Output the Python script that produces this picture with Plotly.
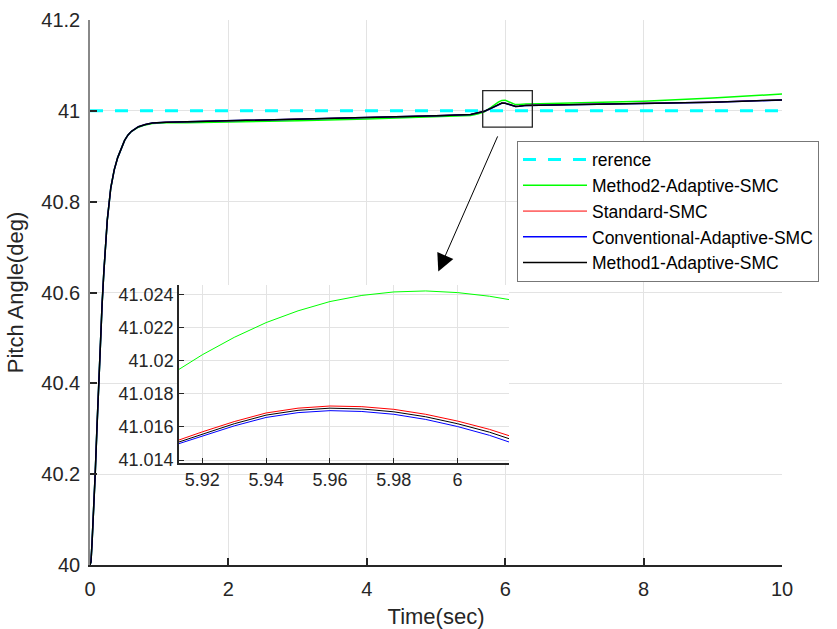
import plotly.graph_objects as go

# ---------------- data ----------------
time = [0, 0.014, 0.03, 0.05, 0.075, 0.1, 0.125, 0.15, 0.175, 0.2, 0.25, 0.3, 0.35, 0.4, 0.45,
        0.5, 0.55, 0.6, 0.7, 0.8, 0.9, 1.1, 1.4,
        2, 3, 4, 5, 5.5, 5.6, 5.7, 5.8, 5.85, 5.9, 5.95, 6.0, 6.05, 6.1, 6.15, 6.2, 6.3, 6.5,
        7, 8, 9, 10]
reference = [41.0] * len(time)
method2 = [40.0, 40.007, 40.05, 40.11, 40.20, 40.30, 40.40, 40.49, 40.575, 40.645, 40.76, 40.83,
           40.87, 40.897, 40.918, 40.935, 40.947, 40.955, 40.964, 40.969, 40.972, 40.974, 40.974,
           40.975, 40.978, 40.982, 40.987, 40.990, 40.993, 40.998, 41.008, 41.014, 41.019, 41.023,
           41.0235, 41.020, 41.016, 41.0138, 41.0138, 41.015, 41.0155, 41.017, 41.021, 41.028, 41.037]
standard = [40.0, 40.007, 40.05, 40.11, 40.20, 40.30, 40.40, 40.49, 40.575, 40.645, 40.76, 40.83,
            40.87, 40.897, 40.918, 40.935, 40.947, 40.955, 40.965, 40.970, 40.973, 40.975, 40.976,
            40.978, 40.981, 40.985, 40.989, 40.992, 40.995, 40.999, 41.0062, 41.0102, 41.0137,
            41.0172, 41.0170, 41.0147, 41.0112, 41.0100, 41.0104, 41.0122, 41.0127, 41.0137,
            41.0162, 41.0192, 41.0242]
conventional = [40.0, 40.007, 40.05, 40.11, 40.20, 40.30, 40.40, 40.49, 40.575, 40.645, 40.76,
                40.83, 40.87, 40.897, 40.918, 40.935, 40.947, 40.955, 40.965, 40.970, 40.973,
                40.975, 40.976, 40.978, 40.981, 40.985, 40.989, 40.992, 40.995, 40.999, 41.0058,
                41.0098, 41.0133, 41.0168, 41.0166, 41.0143, 41.0108, 41.0096, 41.0100, 41.0118,
                41.0123, 41.0133, 41.0158, 41.0188, 41.0238]
method1 = [40.0, 40.007, 40.05, 40.11, 40.20, 40.30, 40.40, 40.49, 40.575, 40.645, 40.76, 40.83,
           40.87, 40.897, 40.918, 40.935, 40.947, 40.955, 40.965, 40.970, 40.973, 40.975, 40.976,
           40.978, 40.981, 40.985, 40.989, 40.992, 40.995, 40.999, 41.006, 41.010, 41.0135,
           41.017, 41.0168, 41.0145, 41.011, 41.0098, 41.0102, 41.012, 41.0125, 41.0135, 41.016,
           41.019, 41.024]

# zoomed-in window
time_zoom = [5.9127, 5.92, 5.93, 5.94, 5.95, 5.96, 5.97, 5.98, 5.99, 6.0, 6.01, 6.0161]
method2_zoom = [41.01947, 41.02035, 41.0214, 41.02229, 41.02300, 41.02356, 41.02393, 41.02414,
                41.02420, 41.02410, 41.02388, 41.02368]
standard_zoom = [41.01521, 41.01570, 41.01632, 41.01684, 41.01713, 41.01726, 41.01722, 41.01706,
                 41.01676, 41.01635, 41.01585, 41.01547]
method1_zoom = [41.01509, 41.01557, 41.01619, 41.01671, 41.01700, 41.01713, 41.01708, 41.01691,
                41.01661, 41.01619, 41.01568, 41.01529]
conventional_zoom = [41.01499, 41.01546, 41.01606, 41.01657, 41.01686, 41.01698, 41.01693,
                     41.01676, 41.01645, 41.01602, 41.01549, 41.01509]

x_ticks = [0, 2, 4, 6, 8, 10]
y_ticks = [40, 40.2, 40.4, 40.6, 40.8, 41, 41.2]
y_tick_text = ["40", "40.2", "40.4", "40.6", "40.8", "41", "41.2"]
xz_ticks = [5.92, 5.94, 5.96, 5.98, 6.0]
xz_tick_text = ["5.92", "5.94", "5.96", "5.98", "6"]
yz_ticks = [41.014, 41.016, 41.018, 41.02, 41.022, 41.024]
yz_tick_text = ["41.014", "41.016", "41.018", "41.02", "41.022", "41.024"]

names = ["rerence", "Method2-Adaptive-SMC", "Standard-SMC", "Conventional-Adaptive-SMC",
         "Method1-Adaptive-SMC"]

FONT = "Liberation Sans, Arial, sans-serif"
TXT = "#262626"
GRID = "#e3e3e3"

fig = go.Figure()

fig.add_trace(go.Scatter(x=time, y=reference, name=names[0], mode="lines",
                         line=dict(color="#00ffff", width=3, dash="13px,12px")))
fig.add_trace(go.Scatter(x=time, y=method2, name=names[1], mode="lines",
                         line=dict(color="#00ff00", width=1.5)))
fig.add_trace(go.Scatter(x=time, y=standard, name=names[2], mode="lines",
                         line=dict(color="#ff0000", width=1)))
fig.add_trace(go.Scatter(x=time, y=conventional, name=names[3], mode="lines",
                         line=dict(color="#0000ff", width=1.5)))
fig.add_trace(go.Scatter(x=time, y=method1, name=names[4], mode="lines",
                         line=dict(color="#000000", width=1.5)))

# inset traces
for ys, col in [(method2_zoom, "#00ff00"), (standard_zoom, "#ff0000"),
                (method1_zoom, "#000000"), (conventional_zoom, "#0000ff")]:
    fig.add_trace(go.Scatter(x=time_zoom, y=ys, mode="lines", showlegend=False,
                             line=dict(color=col, width=1), xaxis="x2", yaxis="y2"))

fig.update_layout(
    width=837, height=629,
    margin=dict(l=90, r=55, t=20, b=64, autoexpand=False),
    paper_bgcolor="white", plot_bgcolor="white",
    font=dict(family=FONT, color=TXT),
    xaxis=dict(domain=[0, 1], range=[0, 10], tickvals=x_ticks, showgrid=True, gridcolor=GRID,
               gridwidth=1, zeroline=False, showline=True, linecolor="#262626", linewidth=1.5,
               ticks="inside", ticklen=7, tickcolor="#262626", tickwidth=1.5, automargin=False,
               tickfont=dict(size=20, color=TXT), ticklabelstandoff=5,
               title=dict(text="Time(sec)", font=dict(size=22, color=TXT), standoff=12)),
    yaxis=dict(domain=[0, 1], range=[40, 41.2], tickvals=y_ticks, ticktext=y_tick_text,
               showgrid=True, gridcolor=GRID, gridwidth=1, zeroline=False, showline=True,
               linecolor="#888888", linewidth=1.5, ticks="inside", ticklen=7, automargin=False,
               tickcolor="#262626", tickwidth=1.5, tickfont=dict(size=20, color=TXT),
               ticklabelstandoff=4,
               title=dict(text="Pitch Angle(deg)", font=dict(size=22, color=TXT), standoff=12)),
    xaxis2=dict(domain=[0.1286, 0.6055], range=[5.9127, 6.0161], anchor="y2", automargin=False,
                tickvals=xz_ticks, ticktext=xz_tick_text, showgrid=True, gridcolor=GRID,
                zeroline=False, showline=True, linecolor="#262626", linewidth=1.5,
                ticks="inside", ticklen=5, tickcolor="#262626", tickfont=dict(size=18, color=TXT)),
    yaxis2=dict(domain=[0.1877, 0.5138], range=[41.01384, 41.02456], anchor="x2", automargin=False,
                tickvals=yz_ticks, ticktext=yz_tick_text, showgrid=True, gridcolor=GRID,
                zeroline=False, showline=True, linecolor="#262626", linewidth=1.5,
                ticks="inside", ticklen=5, tickcolor="#262626", tickfont=dict(size=18, color=TXT)),
    legend=dict(x=517 / 837, y=1 - 140.7 / 629, xref="container", yref="container",
                xanchor="left", yanchor="top",
                bgcolor="white", bordercolor="#777777", borderwidth=1,
                font=dict(size=17.5, color="#000000"), itemwidth=64, tracegroupgap=0),
    shapes=[dict(type="rect", xref="x", yref="y", x0=5.675, x1=6.392, y0=40.964, y1=41.0447,
                 line=dict(color="#262626", width=1.3), layer="above")],
    annotations=[dict(x=5.033, y=40.646, ax=5.90, ay=40.947, xref="x", yref="y",
                      axref="x", ayref="y", text="", showarrow=True, arrowhead=2,
                      arrowsize=3.5, arrowwidth=1, arrowcolor="#000000")],
)

fig.write_html("out.html", config={"displayModeBar": False},
               post_script="document.body.style.margin='0';document.body.style.overflow='hidden';")
